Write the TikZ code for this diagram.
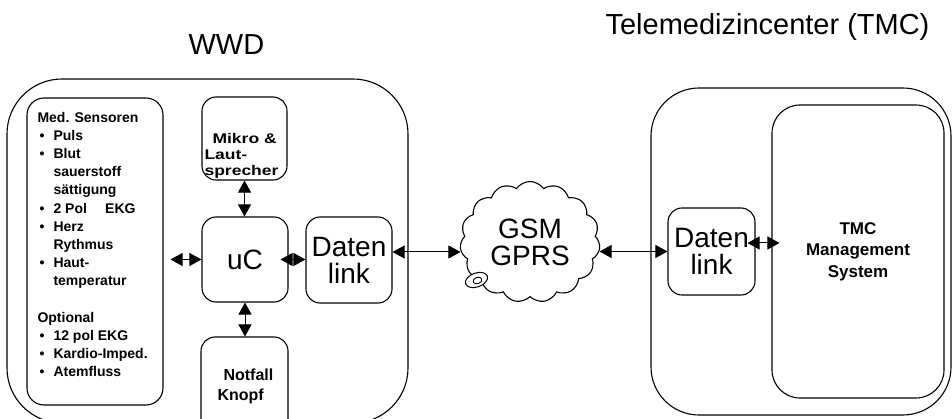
\documentclass[tikz,border=0pt]{standalone}
\usepackage{fontspec}
\setmainfont{Liberation Sans}
\newfontfamily\widesans[FakeStretch=1.25]{Liberation Sans}
\usetikzlibrary{positioning, arrows.meta, shapes.symbols}

\newcommand{\blt}{\hspace*{2pt}\makebox[14pt][l]{\textbullet}}

\begin{document}
\begin{tikzpicture}[
  x=1pt, y=-1pt,
  line width=1.1pt,
  box/.style={draw, rounded corners=14pt, inner sep=0pt, align=center,
              font=\fontsize{28}{27}\selectfont},
  group/.style={draw, inner sep=0pt},
  title/.style={font=\fontsize{29}{32}\selectfont, inner sep=0pt},
  note/.style={font=\bfseries\fontsize{14}{18.2}\selectfont,
               align=left, inner sep=0pt},
  arr/.style={{Triangle[length=12pt,width=13pt]}-{Triangle[length=12pt,width=13pt]},
              line width=1pt}
]
\useasboundingbox (0,0) rectangle (952,419);
\clip (0,0) rectangle (952,419);

% WWD side
\node[title, anchor=base west] (wwdtitle) at (188,55) {WWD};
\node[group, rounded corners=55pt, minimum width=401pt, minimum height=344pt]
  (wwd) at (207.5,251) {};
\node[group, rounded corners=17pt, minimum width=136pt, minimum height=307pt]
  (med) at (95,251.5) {};
\node[note, anchor=north west] (medtxt) at (37,111.5) {%
Med. Sensoren\\
\blt Puls\\
\blt Blut\\
\hspace*{16pt}sauerstoff\\
\hspace*{16pt}sättigung\\
\blt 2 Pol\hspace{1.3em}EKG\\
\blt Herz\\
\hspace*{16pt}Rythmus\\
\blt Haut-\\
\hspace*{16pt}temperatur\\[18.2pt]
Optional\\
\blt 12 pol EKG\\
\blt Kardio-Imped.\\
\blt Atemfluss};

\node[box, minimum width=85pt, minimum height=83pt] (mikro) at (244.5,138.5) {};
\node[note, font=\widesans\bfseries\fontsize{14}{16}\selectfont, anchor=north west]
  (mikrotxt) at (204,133) {\hspace*{8pt}Mikro \&\\Laut-\\sprecher};
\node[box, minimum width=86pt, minimum height=85pt] (uc) at (245,259.5) {uC};
\node[box, minimum width=87pt, minimum height=98pt] (notfall) at (244.5,386) {};
\node[note, font=\bfseries\fontsize{16}{20}\selectfont, anchor=north west]
  (notfalltxt) at (217,368) {\hspace*{6pt}Notfall\\Knopf};
\node[box, minimum width=86pt, minimum height=86pt] (dl1) at (349,260) {Daten\\link};

% network
\node[cloud, draw, cloud puffs=15, cloud puff arc=110, aspect=1.16,
      minimum width=140pt, minimum height=121pt, inner sep=0pt, align=center,
      font=\fontsize{28}{27}\selectfont] (gsm) at (530,242) {GSM\\GPRS};
\draw[line width=1pt, fill=white, rotate around={20:(476.5,280)}]
  (476.5,280) ellipse [x radius=11.5pt, y radius=7pt];
\draw[line width=0.9pt, rotate around={20:(477.5,280.5)}]
  (477.5,280.5) ellipse [x radius=4.5pt, y radius=3.2pt];

% TMC side
\node[title, anchor=base west] (tmctitle) at (605,35) {Telemedizincenter (TMC)};
\node[group, rounded corners=48pt, minimum width=300pt, minimum height=327pt]
  (tmc) at (801,251.5) {};
\node[box, minimum width=87pt, minimum height=87pt] (dl2) at (711.5,251.5) {Daten\\link};
\node[group, rounded corners=28pt, minimum width=172pt, minimum height=293pt,
      align=center, font=\bfseries\fontsize{17}{21.5}\selectfont]
  (mgmt) at (858,251.5) {TMC\\Management\\System};

% connectors
\draw[arr, shorten <=7pt] (med.east |- uc.west) -- (uc.west);
\draw[arr, shorten <=-8pt] (uc.east) -- (uc.east -| dl1.west);
\draw[arr] (mikro.south) -- (mikro.south |- uc.north);
\draw[arr] (uc.south) -- (uc.south |- notfall.north);
\draw[arr] ([yshift=8pt]dl1.east) -- ([yshift=8pt]dl1.east -| gsm.west);
\draw[arr] (dl2.west -| gsm.east) -- (dl2.west);
\draw[arr, shorten <=-8pt, shorten >=-8pt]
  ([yshift=8.5pt]dl2.east) -- ([yshift=8.5pt]dl2.east -| mgmt.west);
\end{tikzpicture}
\end{document}
